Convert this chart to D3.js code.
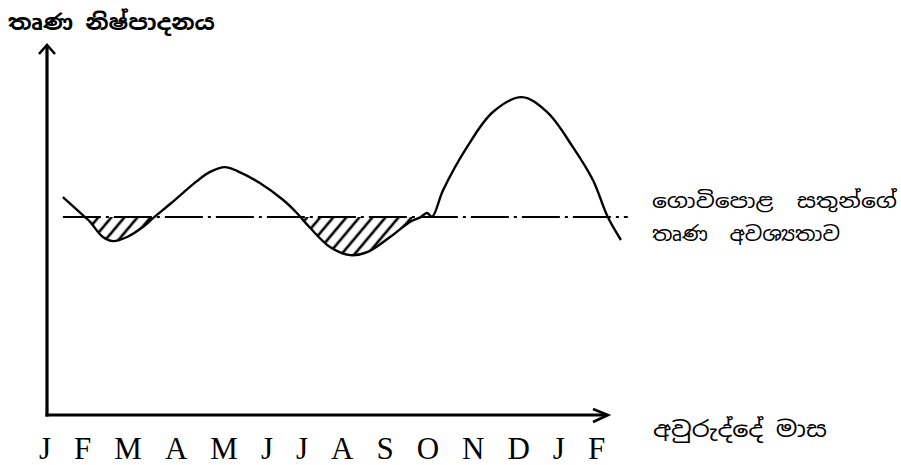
<!DOCTYPE html>
<html>
<head>
<meta charset="utf-8">
<script src="https://cdn.jsdelivr.net/npm/d3@7"></script>
<style>
  html, body { margin: 0; padding: 0; background: #fff; }
  svg { display: block; }
  text { white-space: pre; }
</style>
</head>
<body>
<svg id="chart" width="901" height="465"></svg>
<script>
// ---- data ----
const months = ["J","F","M","A","M","J","J","A","S","O","N","D","J","F"];
// curve: position in months (0 = first J) and production value (0-100)
const curveMonth = [0.42, 0.94, 1.06, 1.36, 1.6, 1.93, 2.3, 2.54, 2.97, 3.57, 3.88, 4.23, 4.51, 5.05, 5.6, 5.92, 6.23, 6.7, 7.17, 7.57, 8.11, 8.58, 8.82, 8.98, 9.1, 9.36, 9.92, 10.53, 11.21, 11.8, 12.41, 12.88, 13.23, 13.54];
const curveValue = [58.9, 53.5, 52.2, 48.1, 47.0, 48.1, 50.8, 53.2, 57.3, 63.2, 65.7, 67.0, 66.0, 62.7, 58.1, 54.6, 50.6, 45.4, 43.2, 44.0, 48.1, 52.2, 53.4, 54.6, 53.6, 60.8, 72.4, 81.9, 85.9, 81.9, 72.4, 63.5, 53.5, 47.3];
const needLevel = 53.5;          // grazing animals' grass requirement
const needSpan = [0.42, 13.7];   // months covered by the requirement line
const hatchUntil = 13;           // deficits shaded up to this month
const yTitle = "තෘණ නිෂ්පාදනය";
const xTitle = "අවුරුද්දේ මාස";
const needLabel = ["ගොවිපොළ  සතුන්ගේ", "තෘණ  අවශ්‍යතාව"];

// ---- scales ----
const svg = d3.select("#chart");
const x = d3.scaleLinear().domain([0, months.length - 1]).range([45, 598]);
const y = d3.scaleLinear().domain([0, 100]).range([415, 45]);
const pts = curveMonth.map((m, i) => [m, curveValue[i]]);

// ---- hatch pattern ----
const defs = svg.append("defs");
const pat = defs.append("pattern")
  .attr("id", "hatch").attr("patternUnits", "userSpaceOnUse")
  .attr("width", 10).attr("height", 10)
  .attr("patternTransform", "rotate(40)");
pat.append("line").attr("x1", 5).attr("y1", -1).attr("x2", 5).attr("y2", 11)
  .attr("stroke", "#000").attr("stroke-width", 2.6);
defs.append("clipPath").attr("id", "below")
  .append("rect").attr("x", 0).attr("y", y(needLevel))
  .attr("width", x(hatchUntil)).attr("height", 465 - y(needLevel));

const curve = d3.curveCatmullRom.alpha(0.5);

// hatched deficit area
svg.append("path")
  .datum(pts)
  .attr("clip-path", "url(#below)")
  .attr("fill", "url(#hatch)")
  .attr("d", d3.area().curve(curve).x(d => x(d[0])).y0(y(needLevel)).y1(d => y(d[1])));

// requirement line (dash-dot)
svg.append("line")
  .attr("x1", x(needSpan[0])).attr("x2", x(needSpan[1]))
  .attr("y1", y(needLevel)).attr("y2", y(needLevel))
  .attr("stroke", "#000").attr("stroke-width", 2)
  .attr("stroke-dasharray", "38,5,3,5");

// production curve
svg.append("path")
  .datum(pts)
  .attr("fill", "none").attr("stroke", "#000").attr("stroke-width", 2.4)
  .attr("d", d3.line().curve(curve).x(d => x(d[0])).y(d => y(d[1])));

// ---- axes ----
const ax = 47;
svg.append("line").attr("x1", ax).attr("x2", ax).attr("y1", y(0) + 1.5).attr("y2", y(100) + 1)
  .attr("stroke", "#000").attr("stroke-width", 3.2);
svg.append("path").attr("d", `M${ax - 8},${y(100) + 9} L${ax},${y(100)} L${ax + 8},${y(100) + 9}`)
  .attr("fill", "none").attr("stroke", "#000").attr("stroke-width", 2.6);
const xEnd = 608;
svg.append("line").attr("x1", ax - 1.5).attr("x2", xEnd - 1).attr("y1", y(0)).attr("y2", y(0))
  .attr("stroke", "#000").attr("stroke-width", 3);
svg.append("path").attr("d", `M${xEnd - 15},${y(0) - 6} L${xEnd},${y(0)} L${xEnd - 15},${y(0) + 7}`)
  .attr("fill", "none").attr("stroke", "#000").attr("stroke-width", 2.6);

// month labels (text flow, like the original typed row)
const mt = svg.append("text")
  .attr("x", 39).attr("y", 459)
  .attr("font-family", "'Liberation Serif', 'Times New Roman', serif")
  .attr("font-size", 31).attr("fill", "#000");
mt.selectAll("tspan").data(months).join("tspan")
  .attr("dx", (d, i) => i === 0 ? 0 : 23)
  .text(d => d);

// titles
const sinFont = "'Noto Sans Sinhala', 'Iskoola Pota', 'Noto Sans', sans-serif";
svg.append("text").attr("x", 8).attr("y", 30)
  .attr("font-family", sinFont).attr("font-size", 22).attr("font-weight", "bold")
  .attr("textLength", 207).attr("lengthAdjust", "spacingAndGlyphs")
  .text(yTitle);
svg.append("text").attr("x", 653).attr("y", 437)
  .attr("font-family", sinFont).attr("font-size", 22)
  .attr("textLength", 174).attr("lengthAdjust", "spacingAndGlyphs")
  .text(xTitle);
const needWidths = [245, 188];
svg.selectAll("text.need").data(needLabel).join("text").attr("class", "need")
  .attr("x", 652).attr("y", (d, i) => 208 + i * 33)
  .attr("font-family", sinFont).attr("font-size", 20)
  .attr("textLength", (d, i) => needWidths[i]).attr("lengthAdjust", "spacingAndGlyphs")
  .text(d => d);
</script>
</body>
</html>
